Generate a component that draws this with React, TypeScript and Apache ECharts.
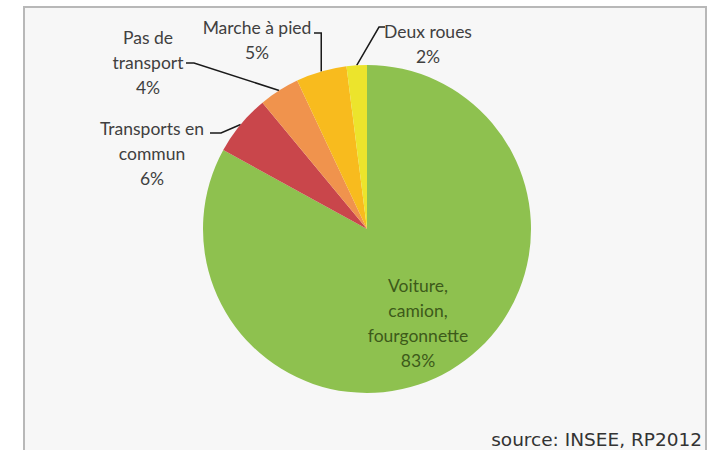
import React, { useEffect, useRef } from 'react';
import * as echarts from 'echarts';

const categories = ['Voiture, camion, fourgonnette', 'Transports en commun', 'Pas de transport', 'Marche à pied', 'Deux roues'];
const labelTexts = ['Voiture,\ncamion,\nfourgonnette', 'Transports en\ncommun', 'Pas de\ntransport', 'Marche à pied', 'Deux roues'];
const shares = [83, 6, 4, 5, 2];
const colors = ['#8ec14f', '#c9464b', '#f0934d', '#f8bb1e', '#ece42c'];
const sourceText = 'source: INSEE, RP2012';

// label block centres (layout only)
const labelAnchors: number[][] = [[418, 323], [152, 153], [148, 62], [257, 40], [428, 44]];

export default function App() {
  const ref = useRef<HTMLDivElement>(null);
  useEffect(() => {
    if (!ref.current) return;
    const chart = echarts.init(ref.current, undefined, { renderer: 'svg' });
    const data = categories.map((name, i) => ({
      name,
      value: shares[i],
      itemStyle: { color: colors[i] },
      label: i === 0 ? { color: '#3d5a1a' } : undefined,
      labelLine: i === 0 ? { show: false } : undefined,
    }));
    chart.setOption({
      animation: false,
      backgroundColor: '#ffffff',
      graphic: [
        {
          type: 'rect',
          z: -10,
          silent: true,
          shape: { x: 24, y: 7, width: 682, height: 470 },
          style: { fill: '#f7f7f7', stroke: '#b8b8b8', lineWidth: 2 },
        },
        {
          type: 'text',
          z: 10,
          x: 702,
          y: 439,
          style: {
            text: sourceText,
            align: 'right',
            verticalAlign: 'middle',
            fill: '#333333',
            font: '18.5px "DejaVu Sans"',
          },
        },
      ],
      series: [
        {
          type: 'pie',
          center: [367, 229],
          radius: 164,
          startAngle: 90,
          clockwise: true,
          avoidLabelOverlap: false,
          data,
          label: {
            show: true,
            position: 'outside',
            fontFamily: 'Lato',
            fontSize: 17.5,
            lineHeight: 25,
            color: '#404040',
            align: 'center',
            formatter: (p: any) => `${labelTexts[p.dataIndex]}\n${p.value}%`,
          },
          labelLine: {
            show: true,
            lineStyle: { color: '#1a1a1a', width: 1.5 },
          },
          labelLayout: (p: any) => {
            const i = p.dataIndex;
            const [x, y] = labelAnchors[i];
            const pts = p.labelLinePoints;
            const edge = pts && pts[0] ? pts[0] : null;
            let line: number[][] | undefined;
            if (edge) {
              if (i === 1) line = [edge, [221, 133], [210, 133]];
              else if (i === 2) line = [edge, [194, 63], [186, 63]];
              else if (i === 3) line = [edge, [edge[0], 33], [314, 33]];
              else if (i === 4) line = [edge, [379, 27], [385, 27]];
            }
            return { x, y, align: 'center', verticalAlign: 'middle', labelLinePoints: line };
          },
        },
      ],
    });
    return () => chart.dispose();
  }, []);
  return <div ref={ref} style={{ position: 'fixed', left: 0, top: 0, width: 716, height: 450 }} />;
}
